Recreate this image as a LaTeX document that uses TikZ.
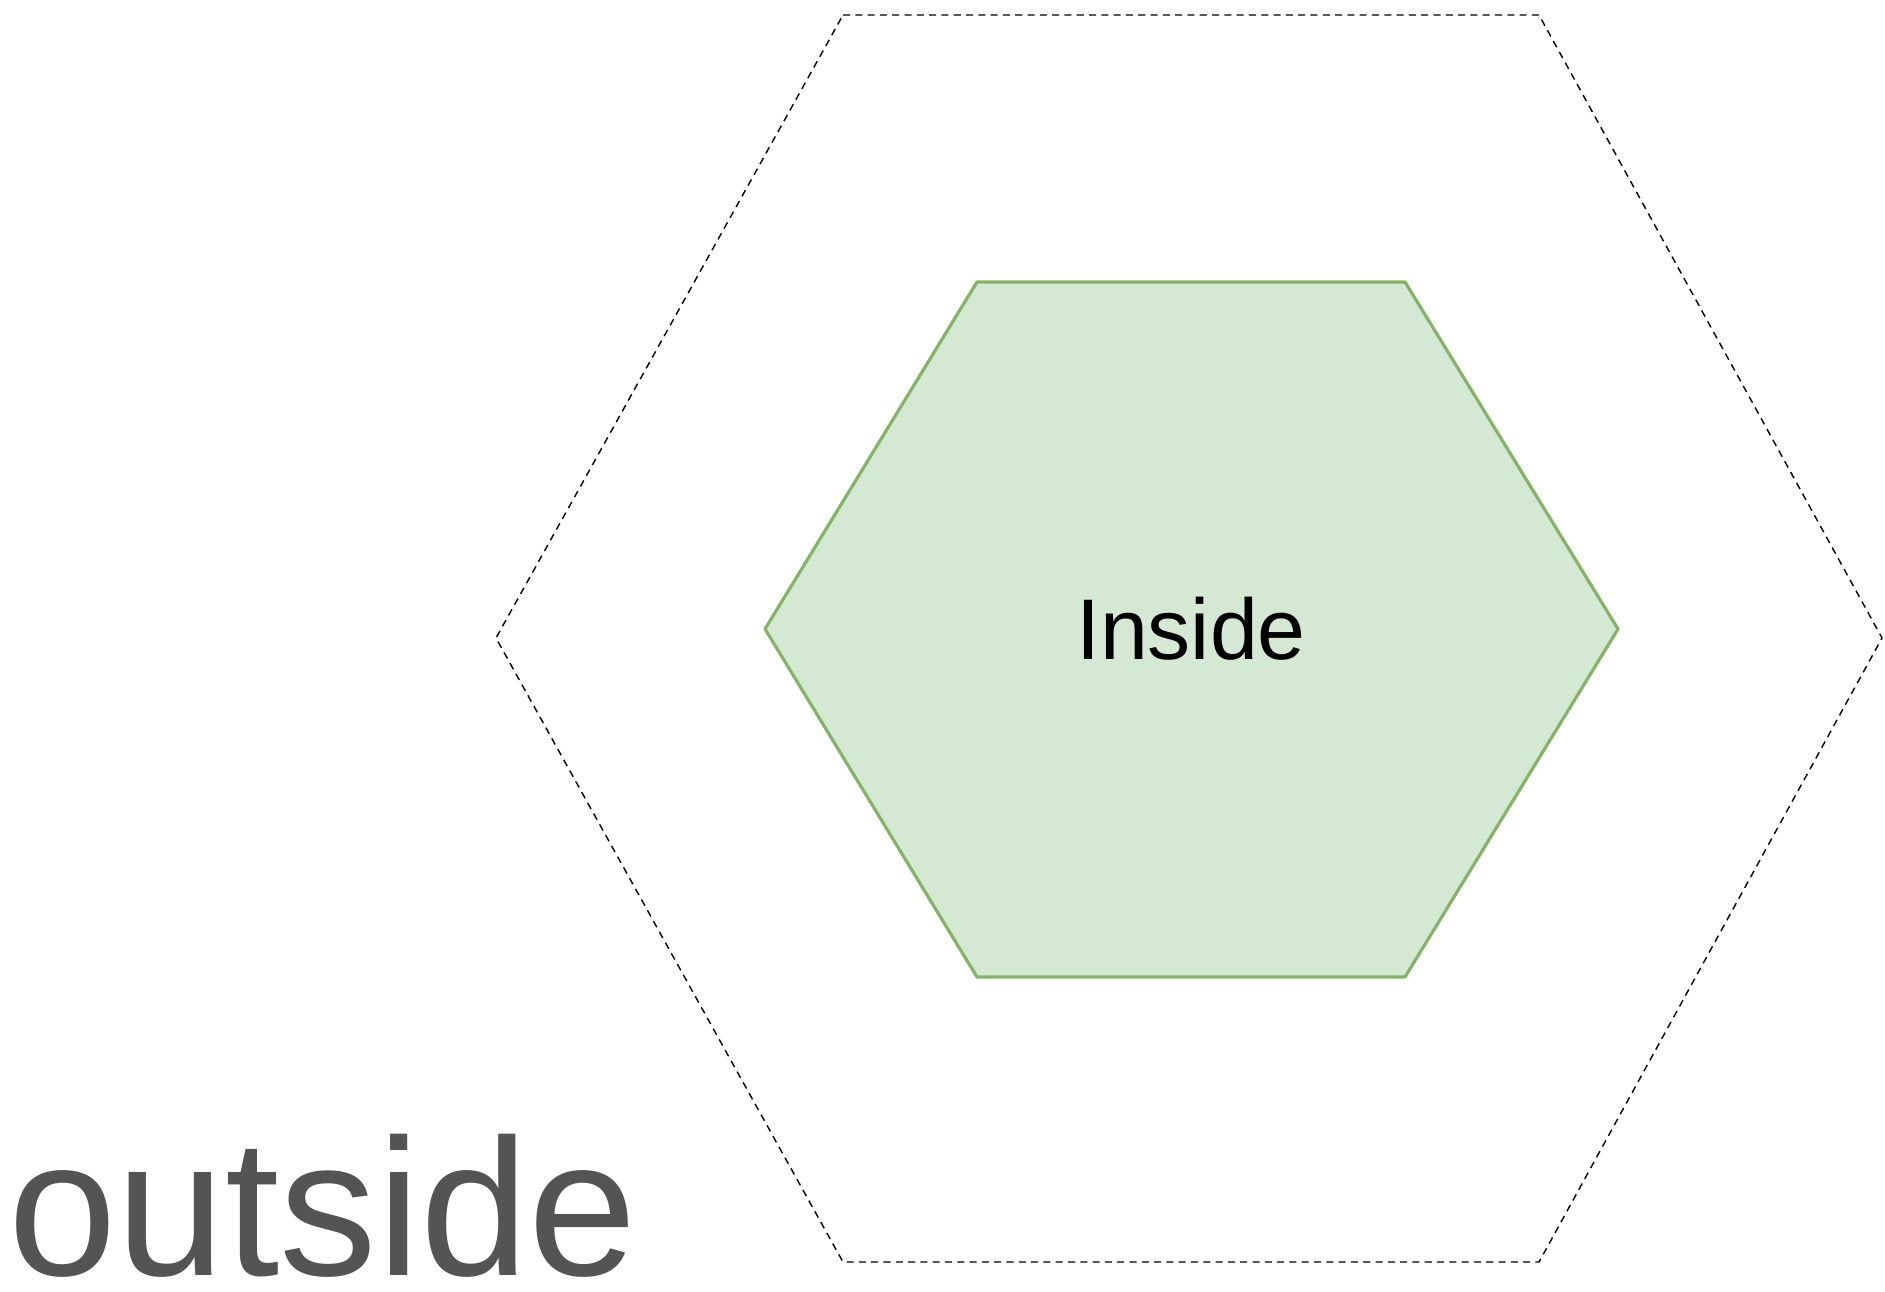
\documentclass[tikz,border=0pt]{standalone}
\usepackage{fontspec}
\setmainfont{Liberation Sans}
\usepackage{xcolor}
\definecolor{hex-fill}{HTML}{D5E8D4}
\definecolor{hex-line}{HTML}{82B366}
\definecolor{label-grey}{HTML}{545454}

\tikzset{
  outerhex/.style={draw=black, line width=0.8pt, dash pattern=on 4pt off 3pt},
  innerhex/.style={draw=hex-line, fill=hex-fill, line width=1.8pt, line join=round},
}

\begin{document}
\begin{tikzpicture}
    \useasboundingbox (0,0) rectangle (37.70,-25.82);
    % dashed boundary
    \draw[outerhex] (16.86,-0.30) -- (30.78,-0.30) -- (37.64,-12.76)
      -- (30.78,-25.24) -- (16.86,-25.24) -- (9.92,-12.76) -- cycle;
    % core
    \draw[innerhex] (19.54,-5.64) -- (28.10,-5.64) -- (32.36,-12.58)
      -- (28.10,-19.54) -- (19.54,-19.54) -- (15.30,-12.58) -- cycle;
    \node[font=\fontsize{49}{58}\selectfont] (inside) at (23.82,-12.58) {Inside};
    \node[font=\fontsize{111}{128}\selectfont, text=label-grey, anchor=base west,
          inner sep=0pt] (outside) at (0.16,-25.50) {outside};
  \end{tikzpicture}
\end{document}
